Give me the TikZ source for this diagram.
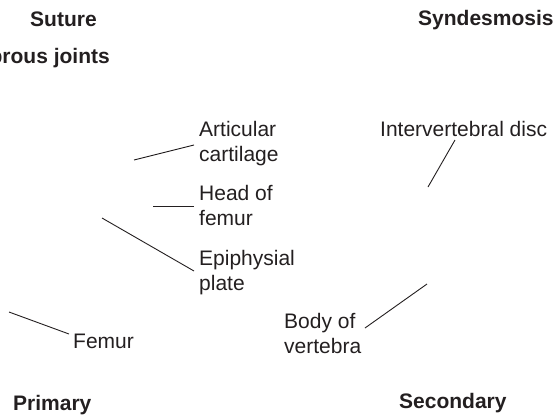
\documentclass[tikz,border=0pt]{standalone}
\usepackage{fontspec}
\setmainfont{Liberation Sans}
\definecolor{ink}{HTML}{231F20}
\begin{document}
\begin{tikzpicture}[x=1pt,y=-1pt,
  lbl/.style={inner sep=0pt,text=ink,font=\fontsize{21}{25}\selectfont,align=left},
  ttl/.style={inner sep=0pt,text=ink,font=\fontsize{21}{25}\selectfont\bfseries},
  lead/.style={draw=ink,line width=0.9pt}]
\clip (0,0) rectangle (557,416);
\useasboundingbox (0,0) rectangle (557,416);
% titles
\node[ttl,anchor=base west] (suture) at (30,26) {Suture};
\node[ttl,anchor=base east] (fibrous) at (110,63) {Fibrous joints};
\node[ttl,anchor=base west] (synd) at (418,25) {Syndesmosis};
\node[ttl,anchor=base west] (primary) at (13,410) {Primary};
\node[ttl,anchor=base west] (secondary) at (399,408) {Secondary};
% labels (base anchor = baseline of the last line)
\node[lbl,anchor=base west] (artic) at (199,161) {Articular\\cartilage};
\node[lbl,anchor=base west] (head) at (199,225) {Head of\\femur};
\node[lbl,anchor=base west] (epi) at (199,290) {Epiphysial\\plate};
\node[lbl,anchor=base west] (femur) at (73,348) {Femur};
\node[lbl,anchor=base west] (ivd) at (380,136) {Intervertebral disc};
\node[lbl,anchor=base west] (body) at (284,353) {Body of\\vertebra};
% leader end points
\coordinate (a1) at (194,145); \coordinate (a2) at (134,160);
\coordinate (h1) at (194,206); \coordinate (h2) at (153,206);
\coordinate (e1) at (194,271); \coordinate (e2) at (102,218);
\coordinate (f1) at (69,334);  \coordinate (f2) at (9,312);
\coordinate (i1) at (455,140); \coordinate (i2) at (428,187);
\coordinate (b1) at (365,328); \coordinate (b2) at (427,284);
\draw[lead] (a1) -- (a2);
\draw[lead] (h1) -- (h2);
\draw[lead] (e1) -- (e2);
\draw[lead] (f1) -- (f2);
\draw[lead] (i1) -- (i2);
\draw[lead] (b1) -- (b2);
\end{tikzpicture}
\end{document}
